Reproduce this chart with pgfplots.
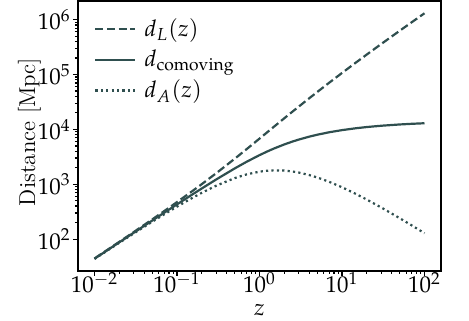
\documentclass[border=0pt]{standalone}
\usepackage{mathpazo}
\usepackage{pgfplots}
\pgfplotsset{compat=1.18}
\definecolor{slate}{HTML}{2F4F4F}

\pgfplotstableread{
z dL
0.01 44.34
0.02 89.35
0.03 135.03
0.05 228.38
0.07 324.30
0.1 472.9
0.15 732.7
0.2 1006.3
0.3 1595.4
0.5 2910.3
0.7 4376.1
1 6788.4
1.25 8946.7
1.5 11208
2 15965
2.5 20955
3 26110
4 36828
5 47935
7 70907
10 106678
15 168403
20 231758
30 361352
50 626907
70 897085
100 1307294
}\dLtab

\pgfplotstableread{
z dC
0.01 43.90
0.02 87.60
0.03 131.10
0.05 217.50
0.07 303.08
0.1 429.9
0.15 637.1
0.2 838.6
0.3 1227.2
0.5 1940.2
0.7 2574.2
1 3394.2
1.25 3976.3
1.5 4483.2
2 5321.8
2.5 5987.2
3 6527.4
4 7365.6
5 7989.1
7 8863.4
10 9698.0
15 10525.2
20 11036.1
30 11656.5
50 12292.3
70 12635.0
100 12943.5
}\dCtab

\pgfplotstableread{
z dA
0.01 43.47
0.02 85.88
0.03 127.28
0.05 207.14
0.07 283.25
0.1 390.8
0.15 554.0
0.2 698.8
0.3 944.0
0.5 1293.5
0.7 1514.2
1 1697.1
1.25 1767.2
1.5 1793.3
2 1773.9
2.5 1710.6
3 1631.9
4 1473.1
5 1331.5
7 1107.9
10 881.6
15 657.8
20 525.5
30 376.0
50 241.0
70 178.0
100 128.2
}\dAtab

\begin{document}
\fontsize{11.5}{13.8}\selectfont
\begin{tikzpicture}
\begin{axis}[
  scale only axis,
  width=181.5bp, height=135bp,
  xmode=log, ymode=log,
  xmin=0.00630957, xmax=158.489,
  ymin=26.24, ymax=2187761,
  xtick={0.01,0.1,1,10,100},
  ytick={100,1000,10000,100000,1000000},
  tick align=outside,
  major tick length=2.5bp,
  minor tick length=1.5bp,
  every tick/.style={black, line width=0.6bp},
  axis line style={line width=0.8bp},
  xtick pos=bottom, ytick pos=left,
  xticklabel style={inner sep=0.5bp, yshift=2.5bp},
  yticklabel style={inner sep=0.5bp, xshift=-0.5bp},
  xlabel={$z$},
  ylabel={Distance [Mpc]},
  xlabel style={at={(axis description cs:0.5,-0.144)}, anchor=center, inner sep=0pt},
  ylabel style={at={(axis description cs:-0.134,0.515)}, anchor=center, inner sep=0pt},
  legend style={draw=none, fill=none, at={(0,1)}, anchor=north west,
    xshift=5bp, yshift=-5bp, row sep=2bp, column sep=2.5bp,
    nodes={inner sep=1.5bp}},
  legend cell align=left,
  legend image code/.code={\draw[#1] (0bp,0bp) -- (20bp,0bp);},
]
\addplot[slate, line width=1.1bp, dash pattern=on 4bp off 1.8bp] table[x=z,y=dL] {\dLtab};
\addlegendentry{$d_L(z)$}
\addplot[slate, line width=1.1bp] table[x=z,y=dC] {\dCtab};
\addlegendentry{$d_{\mathrm{comoving}}$}
\addplot[slate, line width=1.1bp, dash pattern=on 1.1bp off 1.6bp] table[x=z,y=dA] {\dAtab};
\addlegendentry{$d_A(z)$}
\end{axis}
\pgfresetboundingbox
\path ([xshift=-39bp,yshift=-25bp]current axis.south west) rectangle ([xshift=14bp,yshift=0.5bp]current axis.north east);
\end{tikzpicture}
\end{document}
